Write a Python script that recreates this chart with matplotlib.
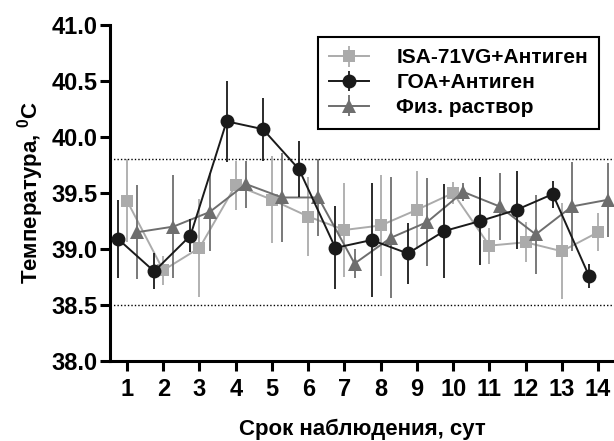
import matplotlib
matplotlib.use('Agg')
import matplotlib.pyplot as plt
import numpy as np

plt.rcParams['font.family'] = ['Liberation Sans', 'DejaVu Sans']
plt.rcParams['font.weight'] = 'bold'
plt.rcParams['mathtext.fontset'] = 'custom'
plt.rcParams['mathtext.rm'] = 'Liberation Sans:bold'
plt.rcParams['mathtext.bf'] = 'Liberation Sans:bold'
plt.rcParams['mathtext.it'] = 'Liberation Sans:bold'

# Data
days = [1, 2, 3, 4, 5, 6, 7, 8, 9, 10, 11, 12, 13, 14]

isa_mean = [39.43, 38.81, 39.01, 39.57, 39.44, 39.29, 39.17, 39.21, 39.35, 39.50, 39.03, 39.06, 38.98, 39.15]
isa_sd = [0.37, 0.13, 0.44, 0.22, 0.39, 0.35, 0.42, 0.45, 0.35, 0.10, 0.16, 0.18, 0.43, 0.17]

goa_mean = [39.09, 38.80, 39.12, 40.14, 40.07, 39.71, 39.01, 39.08, 38.96, 39.16, 39.25, 39.35, 39.49, 38.76]
goa_sd = [0.35, 0.16, 0.15, 0.36, 0.28, 0.25, 0.37, 0.51, 0.27, 0.42, 0.39, 0.35, 0.12, 0.11]

phys_mean = [39.15, 39.20, 39.33, 39.58, 39.46, 39.46, 38.87, 39.10, 39.24, 39.51, 39.38, 39.13, 39.38, 39.44]
phys_sd = [0.42, 0.46, 0.35, 0.21, 0.40, 0.34, 0.13, 0.54, 0.39, 0.08, 0.30, 0.35, 0.40, 0.33]

norm_limits = [38.5, 39.8]

labels = ['ISA-71VG+Антиген', 'ГОА+Антиген', 'Физ. раствор']

fig = plt.figure(figsize=(6.14, 4.41), dpi=100)
ax = fig.add_axes([110 / 614, 80 / 441, 1 - 110 / 614, (361 - 25) / 441])

x = np.array(days, dtype=float)

# series: (mean, sd, x offset, marker, colour, size, zorder)
series = [
    (isa_mean, isa_sd, 0.0, 's', '#ababab', 9, 3),
    (goa_mean, goa_sd, -0.25, 'o', '#1a1a1a', 10, 5),
    (phys_mean, phys_sd, 0.28, '^', '#6e6e6e', 10, 4),
]

handles = []
for (m, sd, off, mk, col, ms, z), lab in zip(series, labels):
    eb = ax.errorbar(x + off, m, yerr=sd, fmt='-' + mk, color=col, ecolor=col,
                     markersize=ms, linewidth=1.4, elinewidth=1.3, capsize=5,
                     capthick=1.3, markeredgewidth=0, zorder=z, label=lab,
                     clip_on=False)
    handles.append(eb)

for lim in norm_limits:
    ax.axhline(lim, color='black', linestyle=(0, (1, 1.5)), linewidth=1.0, zorder=1)

ax.set_xlim(0.53, 14.44)
ax.set_ylim(38.0, 41.0)
ax.set_xticks(days)
ax.set_yticks(np.arange(38.0, 41.01, 0.5))
ax.set_yticklabels([f'{v:.1f}' for v in np.arange(38.0, 41.01, 0.5)])

ax.spines['top'].set_visible(False)
ax.spines['right'].set_visible(False)
ax.spines['left'].set_linewidth(2.2)
ax.spines['bottom'].set_linewidth(2.2)
ax.tick_params(axis='both', direction='out', width=2.2, length=7, labelsize=17)
ax.tick_params(axis='y', pad=2)
ax.tick_params(axis='x', pad=5)
for t in ax.get_xticklabels() + ax.get_yticklabels():
    t.set_fontweight('bold')

ax.set_xlabel('Срок наблюдения, сут', fontsize=16, fontweight='bold', labelpad=13)
ax.set_ylabel(r'Температура, $^{0}$C', fontsize=16, fontweight='bold', labelpad=4)

leg = ax.legend(handles=handles, labels=labels, loc='upper left',
                bbox_to_anchor=(318 / 614, 1 - 37 / 441), bbox_transform=fig.transFigure,
                borderaxespad=0, fancybox=False, edgecolor='black', framealpha=1,
                prop={'size': 15, 'weight': 'bold'}, handlelength=1.9,
                labelspacing=0.28, borderpad=0.55, handletextpad=1.3)
leg.get_frame().set_linewidth(1.5)

plt.savefig('out.png', dpi=100)
